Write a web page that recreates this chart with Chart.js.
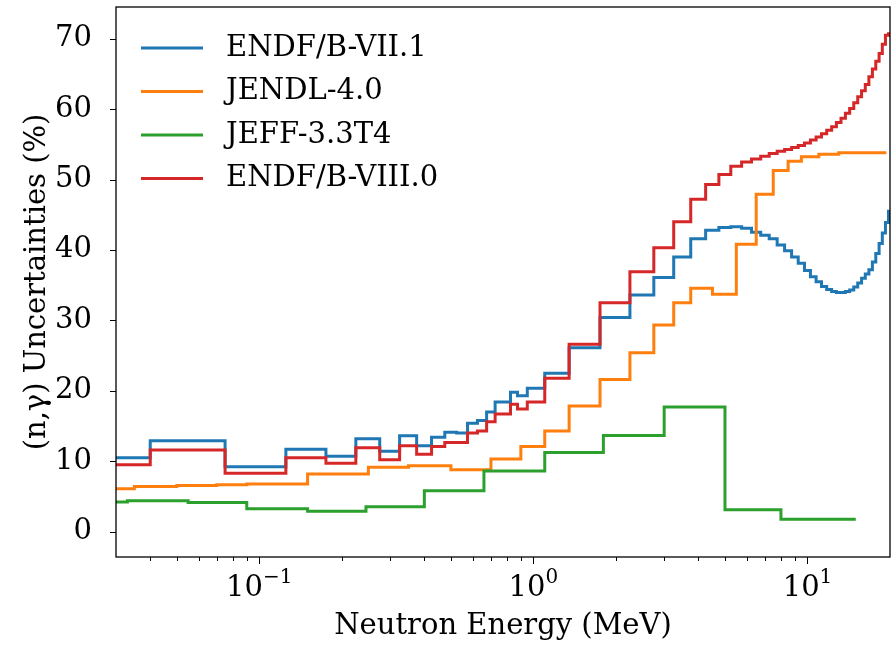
<!DOCTYPE html>
<html>
<head>
<meta charset="utf-8">
<script src="https://cdn.jsdelivr.net/npm/chart.js@4.4.1/dist/chart.umd.min.js"></script>
<style>
  html, body { margin: 0; padding: 0; background: #ffffff; }
  canvas { display: block; }
</style>
</head>
<body>
<canvas id="chart" width="894" height="646"></canvas>
<script>
// Group boundaries (MeV) shared by both ENDF/B evaluations; each value holds from its edge to the next one
const endfEdges = [0.025, 0.04, 0.075, 0.125, 0.175, 0.225, 0.275, 0.325, 0.375, 0.425,
  0.475, 0.525, 0.575, 0.625, 0.675, 0.725, 0.825, 0.875, 0.95, 1.1,
  1.35, 1.75, 2.25, 2.75, 3.25, 3.75, 4.25,
  4.75, 5.25, 5.75, 6.25, 6.75, 7.25, 7.75, 8.25, 8.75, 9.25,
  9.75, 10.25, 10.75, 11.25, 11.75, 12.25, 12.75, 13.25, 13.75, 14.25,
  14.75, 15.25, 15.75, 16.25, 16.75, 17.25, 17.75, 18.25, 18.75, 19.25,
  19.75, 20.25];

// ENDF/B-VII.1 relative uncertainty (%)
const endf71Values = [10.5, 12.9, 9.2, 11.7, 10.7, 13.2, 11.4, 13.6, 12.2, 13.4,
  14.1, 14.0, 15.4, 15.8, 17.0, 18.4, 19.8, 19.3, 20.35, 22.5,
  26.1, 30.4, 33.6, 36.1, 39.0, 41.6, 42.8,
  43.2, 43.3, 43.1, 42.5, 42.1, 41.6, 40.7, 39.9, 39.0, 38.1,
  37.1, 36.2, 35.5, 34.8, 34.4, 34.1, 33.95, 33.95, 34.1, 34.3,
  34.75, 35.3, 36.0, 36.6, 37.2, 38.3, 39.5, 40.9, 42.4, 43.9,
  45.5];

// ENDF/B-VIII.0 relative uncertainty (%)
const endf80Values = [9.5, 11.6, 8.3, 10.5, 9.7, 11.9, 10.2, 12.2, 11.0, 12.1,
  12.65, 12.65, 14.0, 14.3, 15.6, 16.7, 18.1, 17.4, 18.4, 21.8,
  26.6, 32.5, 36.9, 40.3, 44.0, 47.2, 49.3,
  50.7, 51.9, 52.5, 52.9, 53.3, 53.7, 54.0, 54.25, 54.55, 54.85,
  55.2, 55.6, 56.05, 56.5, 57.0, 57.5, 58.1, 58.7, 59.4, 60.1,
  60.9, 61.75, 62.6, 63.5, 64.6, 65.7, 66.8, 67.9, 69.2, 70.5,
  70.7];

// JENDL-4.0 groups and uncertainty (%)
const jendlEdges = [0.025, 0.035, 0.05, 0.07, 0.09, 0.15, 0.25, 0.35, 0.5, 0.7,
  0.9, 1.1, 1.35, 1.75, 2.25, 2.75, 3.25, 3.75, 4.5, 5.5,
  6.5, 7.5, 8.5, 9.5, 11, 13, 19.4];
const jendlValues = [6.1, 6.4, 6.55, 6.65, 6.75, 8.2, 9.15, 9.35, 8.8, 10.3,
  12.1, 14.3, 17.85, 21.6, 25.4, 29.35, 32.5, 34.55, 33.7, 40.8,
  47.9, 51.3, 52.6, 53.25, 53.6, 53.8];

// JEFF-3.3T4 groups and uncertainty (%)
const jeffEdges = [0.025, 0.033, 0.055, 0.09, 0.15, 0.245, 0.4, 0.66, 1.1, 1.8,
  3.0, 5.0, 8.0, 15.0];
const jeffValues = [4.2, 4.4, 4.15, 3.25, 2.9, 3.55, 5.8, 8.6, 11.25, 13.65,
  17.7, 3.1, 1.75];

const seriesNames = ['ENDF/B-VII.1', 'JENDL-4.0', 'JEFF-3.3T4', 'ENDF/B-VIII.0'];
const seriesColors = ['#1f77b4', '#ff7f0e', '#2ca02c', '#d62728'];

// Decade ticks on the energy axis, written as base and exponent
const xMajorTicks = [0.1, 1, 10];
const xTickExponents = ['\u22121', '0', '1'];
const yTicks = [0, 10, 20, 30, 40, 50, 60, 70];

const FONT = "'DejaVu Serif', 'Liberation Serif', serif";

// Turn group edges + values into points for a post-step line
function stepPoints(edges, values) {
  return edges.map((e, i) => ({ x: e, y: values[Math.min(i, values.length - 1)] }));
}

function makeSet(i, edges, values, order) {
  return {
    label: seriesNames[i],
    data: stepPoints(edges, values),
    borderColor: seriesColors[i],
    backgroundColor: seriesColors[i],
    borderWidth: 3,
    stepped: 'before',
    pointRadius: 0,
    fill: false,
    borderJoinStyle: 'miter',
    order: order
  };
}

// Outward tick marks, power-of-ten labels, the box round the axes and the legend
const axesDecor = {
  id: 'axesDecor',
  afterDraw(chart) {
    const { ctx, chartArea: a, scales: { x, y } } = chart;
    ctx.save();
    ctx.strokeStyle = '#000';
    ctx.lineWidth = 1;
    ctx.beginPath();
    x.ticks.forEach(t => {
      const px = Math.round(x.getPixelForValue(t.value)) + 0.5;
      const len = t.major ? 7 : 4;
      ctx.moveTo(px, a.bottom);
      ctx.lineTo(px, a.bottom + len);
    });
    y.ticks.forEach(t => {
      const py = Math.round(y.getPixelForValue(t.value)) + 0.5;
      ctx.moveTo(a.left - 6, py);
      ctx.lineTo(a.left, py);
    });
    ctx.stroke();

    ctx.lineWidth = 1.3;
    ctx.strokeRect(a.left, a.top, a.right - a.left, a.bottom - a.top);

    // 10^n labels under the decade ticks
    ctx.fillStyle = '#000';
    ctx.textBaseline = 'alphabetic';
    ctx.textAlign = 'left';
    xMajorTicks.forEach((v, k) => {
      const px = x.getPixelForValue(v);
      ctx.font = '29px ' + FONT;
      const wBase = ctx.measureText('10').width;
      ctx.font = '20px ' + FONT;
      const wExp = ctx.measureText(xTickExponents[k]).width;
      const left = px - (wBase + wExp) / 2;
      ctx.font = '29px ' + FONT;
      ctx.fillText('10', left, a.bottom + 39);
      ctx.font = '20px ' + FONT;
      ctx.fillText(xTickExponents[k], left + wBase, a.bottom + 26);
    });

    // legend, upper left inside the axes
    ctx.font = '29px ' + FONT;
    ctx.textBaseline = 'middle';
    ctx.textAlign = 'left';
    chart.data.datasets.forEach((ds, i) => {
      const yy = a.top + 41 + i * 43.5;
      ctx.strokeStyle = ds.borderColor;
      ctx.lineWidth = 3;
      ctx.beginPath();
      ctx.moveTo(a.left + 25, yy);
      ctx.lineTo(a.left + 87, yy);
      ctx.stroke();
      ctx.fillStyle = '#000';
      ctx.fillText(ds.label, a.left + 110, yy);
    });
    ctx.restore();
  }
};

new Chart(document.getElementById('chart'), {
  type: 'line',
  data: {
    datasets: [
      makeSet(0, endfEdges, endf71Values, 4),
      makeSet(1, jendlEdges, jendlValues, 3),
      makeSet(2, jeffEdges, jeffValues, 2),
      makeSet(3, endfEdges, endf80Values, 1)
    ]
  },
  options: {
    responsive: false,
    animation: false,
    devicePixelRatio: 1,
    layout: { padding: { left: 0, right: 4, top: 7, bottom: 0 } },
    plugins: {
      legend: { display: false },
      tooltip: { enabled: false }
    },
    scales: {
      x: {
        type: 'logarithmic',
        min: 0.03,
        max: 20,
        border: { display: false },
        grid: { display: false },
        afterBuildTicks(scale) {
          const ticks = [];
          [0.01, 0.1, 1, 10].forEach(dec => {
            for (let m = 1; m <= 9; m++) {
              const v = m === 1 ? dec : +(m * dec).toPrecision(3);
              if (v > scale.min && v < scale.max) {
                ticks.push({ value: v, major: xMajorTicks.includes(v) });
              }
            }
          });
          scale.ticks = ticks;
        },
        afterFit(scale) {
          scale.height = 89;
          scale.paddingLeft = 0;
          scale.paddingRight = 0;
        },
        ticks: {
          autoSkip: false,
          maxRotation: 0,
          minRotation: 0,
          padding: 10,
          color: '#000',
          font: { family: FONT, size: 29 },
          callback() { return ''; }
        },
        title: {
          display: true,
          text: 'Neutron Energy (MeV)',
          color: '#000',
          font: { family: FONT, size: 29 },
          padding: { top: 0, bottom: 2 }
        }
      },
      y: {
        type: 'linear',
        min: -3.6,
        max: 74.5,
        border: { display: false },
        grid: { display: false },
        afterBuildTicks(scale) {
          scale.ticks = yTicks.map(v => ({ value: v }));
        },
        afterFit(scale) {
          scale.width = 116;
          scale.paddingTop = 0;
          scale.paddingBottom = 0;
        },
        ticks: {
          padding: 16,
          color: '#000',
          font: { family: FONT, size: 29 }
        },
        title: {
          display: true,
          text: '(n,\u03B3) Uncertainties (%)',
          color: '#000',
          font: { family: FONT, size: 29 },
          padding: { top: 20, bottom: 0 }
        }
      }
    }
  },
  plugins: [axesDecor]
});
</script>
</body>
</html>
